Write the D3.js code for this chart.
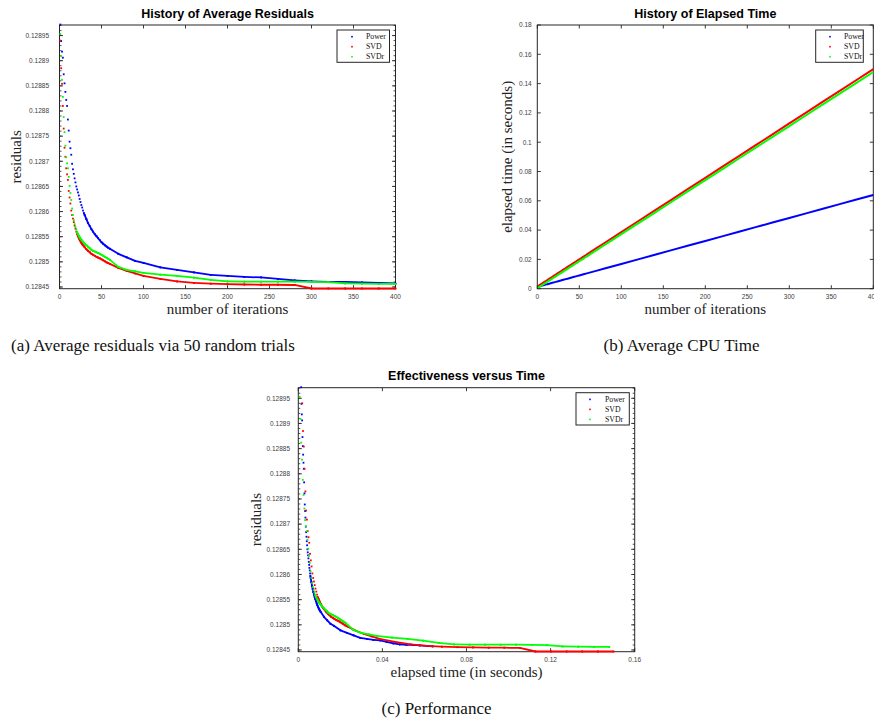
<!DOCTYPE html>
<html><head><meta charset="utf-8">
<script src="https://cdn.jsdelivr.net/npm/d3@7"></script>
<style>body{margin:0;background:#fff} svg{display:block}</style>
</head><body>
<svg id="c" width="874" height="723"></svg>
<script>
// ---------------- data ----------------
const iterations = [1,2,3,4,5,6,7,8,9,10,11,12,13,14,15,16,17,18,19,20,21,22,23,24,25,26,27,28,29,30,
  32,34,36,38,40,42,44,46,48,50,52,54,56,58,60,70,80,90,100,120,140,160,180,200,220,240,260,280,300,320,340,360,380,400];

const residPower = [0.128972,0.128939,0.128918,0.128906,0.128873,0.128855,0.128838,0.128822,0.12881,0.128783,
  0.128761,0.128739,0.128726,0.128713,0.128695,0.128684,0.128675,0.128666,0.128658,0.12865,
  0.128644,0.128638,0.128632,0.128625,0.128619,0.128613,0.128608,0.128602,0.128597,0.128593,
  0.128585,0.128577,0.128571,0.128565,0.12856,0.128555,0.128551,0.128547,0.128543,0.128539,0.128536,0.128533,0.1285305,0.128528,0.128526,
  0.128516,0.128509,0.128502,0.128498,
  0.128489,0.128484,0.128479,0.128474,0.128472,0.12847,0.128469,0.128466,0.128463,0.128461,0.12846,0.12846,0.128459,0.128458,0.128457];
const residSVD = [0.12894,0.128885,0.128854,0.12881,0.128765,0.128727,0.128709,0.128686,0.128674,0.128663,
  0.128641,0.128628,0.128616,0.128602,0.128593,0.128586,0.128579,0.128572,0.128566,0.12856,
  0.128555,0.128551,0.128547,0.128544,0.128541,0.128538,0.128535,0.128533,0.128531,0.128529,
  0.128525,0.128522,0.128519,0.128516,0.128514,0.128512,0.12851,0.1285085,0.128507,0.128505,0.128503,0.128501,0.128499,0.1284975,0.128496,
  0.128488,0.128482,0.128477,0.128472,
  0.128466,0.128461,0.128458,0.1284565,0.1284555,0.128455,0.1284545,0.1284545,0.128454,0.128447,0.128447,0.128447,0.128447,0.128447,0.128447];
const residSVDr = [0.128953,0.128909,0.128862,0.128828,0.128788,0.128758,0.128731,0.128708,0.128696,0.128686,
  0.128669,0.128651,0.128637,0.128623,0.128606,0.128593,0.128583,0.128575,0.128569,0.128564,
  0.128559,0.128555,0.128552,0.128549,0.128546,0.128544,0.128542,0.12854,0.128538,0.128536,
  0.128533,0.12853,0.128527,0.128524,0.128522,0.1285205,0.128519,0.1285175,0.128516,0.128514,0.128512,0.12851,0.128508,0.128506,0.128504,
  0.12849,0.128484,0.128481,0.128478,
  0.1284745,0.128472,0.1284685,0.128464,0.128461,0.1284605,0.1284605,0.1284605,0.1284605,0.12846,0.1284595,0.128457,0.1284565,0.128456,0.128456];

const timePower = [0.00136,0.00151,0.00167,0.00183,0.00199,0.00214,0.0023,0.00246,0.00261,0.00277,
  0.00293,0.00308,0.00324,0.0034,0.00356,0.00371,0.00387,0.00403,0.00418,0.00434,
  0.0045,0.00465,0.00481,0.00497,0.00513,0.00528,0.00544,0.0056,0.00575,0.00591,
  0.00622,0.00654,0.00685,0.00717,0.00748,0.00779,0.00811,0.00842,0.00874,0.00905,0.00936,0.00968,0.00999,0.01031,0.01062,
  0.01219,0.01376,0.01533,0.0169,
  0.02004,0.02318,0.02632,0.02946,0.0326,0.03574,0.03888,0.04202,0.04516,0.0483,0.05144,0.05458,0.05772,0.06086,0.064];
const timeSVD = [0.00187,0.00224,0.00261,0.00298,0.00336,0.00373,0.0041,0.00447,0.00484,0.00521,
  0.00558,0.00595,0.00632,0.00669,0.00707,0.00744,0.00781,0.00818,0.00855,0.00892,
  0.00929,0.00966,0.01003,0.0104,0.01078,0.01115,0.01152,0.01189,0.01226,0.01263,
  0.01337,0.01411,0.01486,0.0156,0.01634,0.01708,0.01782,0.01857,0.01931,0.02005,0.02079,0.02153,0.02228,0.02302,0.02376,
  0.02747,0.03118,0.03489,0.0386,
  0.04602,0.05344,0.06086,0.06828,0.0757,0.08312,0.09054,0.09796,0.10538,0.1128,0.12022,0.12764,0.13506,0.14248,0.1499];
const timeSVDr = [0.00067,0.00104,0.00141,0.00178,0.00215,0.00251,0.00288,0.00325,0.00362,0.00399,
  0.00436,0.00473,0.0051,0.00547,0.00584,0.0062,0.00657,0.00694,0.00731,0.00768,
  0.00805,0.00842,0.00879,0.00916,0.00953,0.00989,0.01026,0.01063,0.011,0.01137,
  0.01211,0.01285,0.01358,0.01432,0.01506,0.0158,0.01654,0.01727,0.01801,0.01875,0.01949,0.02023,0.02096,0.0217,0.02244,
  0.02613,0.02982,0.03351,0.0372,
  0.04458,0.05196,0.05934,0.06672,0.0741,0.08148,0.08886,0.09624,0.10362,0.111,0.11838,0.12576,0.13314,0.14052,0.1479];

const seriesNames = ["Power", "SVD", "SVDr"];
const seriesColors = ["#0000ff", "#ff0000", "#00ff00"];

const residTickLabels = ["0.12845","0.1285","0.12855","0.1286","0.12865","0.1287","0.12875","0.1288","0.12885","0.1289","0.12895"];
const iterTickLabels = ["0","50","100","150","200","250","300","350","400"];
const timeTickLabels = ["0","0.02","0.04","0.06","0.08","0.1","0.12","0.14","0.16","0.18"];
const perfTickLabels = ["0","0.04","0.08","0.12","0.16"];

const titles = ["History of Average Residuals", "History of Elapsed Time", "Effectiveness versus Time"];
const captions = ["(a) Average residuals via 50 random trials", "(b) Average CPU Time", "(c) Performance"];

// ---------------- drawing ----------------
const svg = d3.select("#c");
const SANS = "'Liberation Sans', Arial, Helvetica, sans-serif";
const SERIF = "'Liberation Serif', 'Times New Roman', serif";
const AX = "#262626";

function drawPanel(c) {
  const g = svg.append("g");
  const x = d3.scaleLinear().domain(c.xDomain).range([c.left, c.right]);
  const y = d3.scaleLinear().domain(c.yDomain).range([c.bottom, c.top]);

  if (c.yMinorStep) {
    const m = d3.range(Math.ceil(c.yDomain[0] / c.yMinorStep - 1e-6) * c.yMinorStep, c.yDomain[1], c.yMinorStep);
    m.forEach(v => {
      const yy = y(v);
      g.append("line").attr("x1", c.left).attr("x2", c.left + 2).attr("y1", yy).attr("y2", yy).attr("stroke", AX).attr("stroke-width", 0.8);
      g.append("line").attr("x1", c.right).attr("x2", c.right - 2).attr("y1", yy).attr("y2", yy).attr("stroke", AX).attr("stroke-width", 0.8);
    });
  }
  c.yTickLabels.forEach(lab => {
    const yy = y(+lab);
    g.append("line").attr("x1", c.left).attr("x2", c.left + 3.5).attr("y1", yy).attr("y2", yy).attr("stroke", AX).attr("stroke-width", 0.9);
    g.append("line").attr("x1", c.right).attr("x2", c.right - 3.5).attr("y1", yy).attr("y2", yy).attr("stroke", AX).attr("stroke-width", 0.9);
    g.append("text").attr("x", c.left - c.yTickGap).attr("y", yy + 2.3).attr("text-anchor", "end")
      .attr("font-family", SANS).attr("font-size", 6.5).attr("fill", "#404040").text(lab);
  });
  c.xTickLabels.forEach(lab => {
    const xx = x(+lab);
    g.append("line").attr("x1", xx).attr("x2", xx).attr("y1", c.bottom).attr("y2", c.bottom - 3.5).attr("stroke", AX).attr("stroke-width", 0.9);
    g.append("line").attr("x1", xx).attr("x2", xx).attr("y1", c.top).attr("y2", c.top + 3.5).attr("stroke", AX).attr("stroke-width", 0.9);
    g.append("text").attr("x", xx).attr("y", c.bottom + 10).attr("text-anchor", "middle")
      .attr("font-family", SANS).attr("font-size", 6.5).attr("fill", "#404040").text(lab);
  });
  g.append("rect").attr("x", c.left).attr("y", c.top).attr("width", c.right - c.left).attr("height", c.bottom - c.top)
    .attr("fill", "none").attr("stroke", AX).attr("stroke-width", 1);

  c.series.forEach(s => {
    const pts = s.xs.map((v, i) => [x(v), y(s.ys[i])]);
    if (s.mode === "line") {
      g.append("path").attr("d", d3.line()(pts)).attr("fill", "none").attr("stroke", s.color).attr("stroke-width", 2);
    } else {
      // one marker per iteration in the source: where markers of consecutive
      // iterations would touch, show them as a continuous trace
      const segs = [];
      for (let k = 1; k < pts.length; k++) {
        const dx = pts[k][0] - pts[k - 1][0], dy = pts[k][1] - pts[k - 1][1];
        const gap = iterations[k] - iterations[k - 1];
        if (Math.hypot(dx, dy) / gap <= 2.2) segs.push([pts[k - 1], pts[k]]);
      }
      g.append("g").selectAll("line").data(segs).join("line")
        .attr("x1", d => d[0][0]).attr("y1", d => d[0][1]).attr("x2", d => d[1][0]).attr("y2", d => d[1][1])
        .attr("stroke", s.color).attr("stroke-width", 1.8).attr("stroke-linecap", "round");
      g.append("g").selectAll("rect").data(pts).join("rect")
        .attr("x", d => d[0] - 0.9).attr("y", d => d[1] - 0.9).attr("width", 1.8).attr("height", 1.8)
        .attr("fill", s.color);
    }
  });

  g.append("text").attr("x", (c.left + c.right) / 2).attr("y", c.top - 7.5).attr("text-anchor", "middle")
    .attr("font-family", SANS).attr("font-weight", "bold").attr("font-size", 12.5).attr("fill", "#000").text(c.title);
  g.append("text").attr("x", (c.left + c.right) / 2).attr("y", c.bottom + 25.5).attr("text-anchor", "middle")
    .attr("font-family", SERIF).attr("font-size", 15).attr("fill", "#222").text(c.xLabel);
  g.append("text").attr("transform", `translate(${c.yLabelX},${(c.top + c.bottom) / 2}) rotate(-90)`).attr("text-anchor", "middle")
    .attr("font-family", SERIF).attr("font-size", 15).attr("fill", "#222").text(c.yLabel);

  const L = c.legend;
  g.append("rect").attr("x", L.x0).attr("y", c.top + 5).attr("width", L.w).attr("height", 32.3)
    .attr("fill", "#fff").attr("stroke", AX).attr("stroke-width", 1);
  seriesNames.forEach((nm, i) => {
    const yy = c.top + 11.7 + i * 10;
    g.append("rect").attr("x", L.x0 + L.mark - 0.8).attr("y", yy - 0.8).attr("width", 1.6).attr("height", 1.6).attr("fill", seriesColors[i]);
    g.append("text").attr("x", L.x0 + L.text).attr("y", yy + 2.6).attr("font-family", SERIF).attr("font-size", 7.8)
      .attr("fill", "#111").text(nm);
  });
}

drawPanel({
  left: 59.5, right: 395.5, top: 25, bottom: 288.7,
  xDomain: [0, 400], yDomain: [0.1284466, 0.128971], yMinorStep: 0.00001,
  xTickLabels: iterTickLabels, yTickLabels: residTickLabels, yTickGap: 10.5,
  title: titles[0], xLabel: "number of iterations", yLabel: "residuals", yLabelX: 21,
  legend: { x0: 337, w: 52.5, mark: 15, text: 29 },
  series: [
    { xs: iterations, ys: residPower, color: seriesColors[0] },
    { xs: iterations, ys: residSVD, color: seriesColors[1] },
    { xs: iterations, ys: residSVDr, color: seriesColors[2] }
  ]
});

drawPanel({
  left: 537.3, right: 873.3, top: 25, bottom: 288.7,
  xDomain: [0, 400], yDomain: [0, 0.18], yMinorStep: 0,
  xTickLabels: iterTickLabels, yTickLabels: timeTickLabels, yTickGap: 5.6,
  title: titles[1], xLabel: "number of iterations", yLabel: "elapsed time (in seconds)", yLabelX: 512,
  legend: { x0: 815.7, w: 47.6, mark: 14.3, text: 28.3 },
  series: [
    { xs: iterations, ys: timePower, color: seriesColors[0], mode: "line" },
    { xs: iterations, ys: timeSVD, color: seriesColors[1], mode: "line" },
    { xs: iterations, ys: timeSVDr, color: seriesColors[2], mode: "line" }
  ]
});

drawPanel({
  left: 298.3, right: 634.7, top: 387.7, bottom: 651.7,
  xDomain: [0, 0.16], yDomain: [0.1284466, 0.128971], yMinorStep: 0.00001,
  xTickLabels: perfTickLabels, yTickLabels: residTickLabels, yTickGap: 8.3,
  title: titles[2], xLabel: "elapsed time (in seconds)", yLabel: "residuals", yLabelX: 261,
  legend: { x0: 576, w: 53.3, mark: 14, text: 29 },
  series: [
    { xs: timePower, ys: residPower, color: seriesColors[0] },
    { xs: timeSVD, ys: residSVD, color: seriesColors[1] },
    { xs: timeSVDr, ys: residSVDr, color: seriesColors[2] }
  ]
});

const capPos = [[153, 351], [681.5, 351], [436.5, 714]];
captions.forEach((t, i) => {
  svg.append("text").attr("x", capPos[i][0]).attr("y", capPos[i][1]).attr("text-anchor", "middle")
    .attr("font-family", SERIF).attr("font-size", 17).attr("fill", "#111").text(t);
});
</script>
</body></html>
